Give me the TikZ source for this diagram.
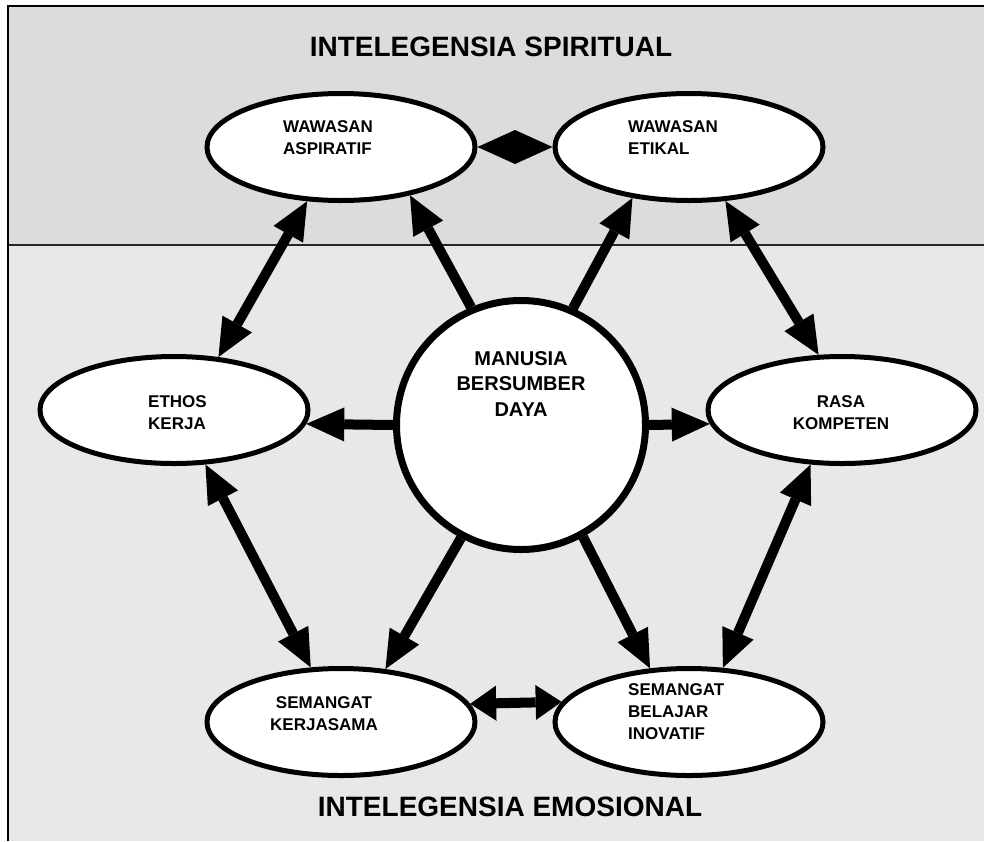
\documentclass[tikz,border=0pt]{standalone}
\usepackage{fontspec}
\setmainfont{Liberation Sans}
\usetikzlibrary{arrows.meta,shapes.geometric}
\definecolor{topgray}{RGB}{220,220,220}
\definecolor{botgray}{RGB}{232,232,232}
\begin{document}
\begin{tikzpicture}[x=1pt,y=-1pt,
  oval/.style={ellipse, draw=black, line width=5pt, fill=white, minimum width=268pt, minimum height=107pt, inner sep=0pt},
  hub/.style={circle, draw=black, line width=7pt, fill=white, minimum size=249pt, inner sep=0pt},
  lbl/.style={font=\fontsize{17}{22}\selectfont\bfseries, inner sep=0pt},
  hublbl/.style={font=\fontsize{20}{25.5}\selectfont\bfseries, inner sep=0pt},
  ttl/.style={font=\fontsize{28}{34}\selectfont\bfseries, inner sep=0pt},
  one/.style={line width=10pt, -{Triangle[length=38pt,width=34pt,line width=0pt]}},
  two/.style={line width=10pt, {Triangle[length=38pt,width=34pt,line width=0pt]}-{Triangle[length=38pt,width=34pt,line width=0pt]}},
  diam/.style={line width=10pt, {Triangle[length=37.5pt,width=34pt,line width=0pt]}-{Triangle[length=37.5pt,width=34pt,line width=0pt]}},
  shorttwo/.style={line width=10pt, {Triangle[length=26pt,width=35pt,line width=0pt]}-{Triangle[length=26pt,width=35pt,line width=0pt]}}
]
\useasboundingbox (0,0) rectangle (984,841);
% background panels
\fill[topgray] (8,6) rectangle (984,245);
\fill[botgray] (8,245) rectangle (984,841);
\draw[line width=2.5pt, black!85] (9,245) -- (984,245);
\draw[line width=2.5pt] (8,841) -- (8,6) -- (984,6);

% titles
\node[ttl] (t1) at (491,47) {INTELEGENSIA SPIRITUAL};
\node[ttl] (t2) at (510,807) {INTELEGENSIA EMOSIONAL};

% nodes
\node[hub] (C) at (521,425) {};
\node[oval] (A) at (341,147) {};
\node[oval] (E) at (689,147) {};
\node[oval] (K) at (174,410) {};
\node[oval] (R) at (842,410) {};
\node[oval] (S) at (341,722) {};
\node[oval] (B) at (689,722) {};

% labels
\node[hublbl, align=center] (Ct) at (521,384) {MANUSIA\\BERSUMBER\\DAYA};
\node[lbl, align=left, anchor=west] (At) at (283,138) {WAWASAN\\ASPIRATIF};
\node[lbl, align=left, anchor=west] (Et) at (628,138) {WAWASAN\\ETIKAL};
\node[lbl, align=left, anchor=west] (Kt) at (148,413) {ETHOS\\KERJA};
\node[lbl, align=center] (Rt) at (841,413) {RASA\\KOMPETEN};
\node[lbl, align=center] (St) at (324,714) {SEMANGAT\\KERJASAMA};
\node[lbl, align=left, anchor=west] (Bt) at (628,712) {SEMANGAT\\BELAJAR\\INOVATIF};

% arrows from the hub
\draw[one] (C.113.8) -- (A.-35);
\draw[one] (C.66.6) -- (E.-138.2);
\draw[one] (C.180) -- (K.-6.5);
\draw[one] (C.0) -- (R.186.5);
\draw[one] (C.-118) -- (S.50.3);
\draw[one] (C.-61.7) -- (B.126);

% arrows between ellipses
\draw[two] (A.-122.9) -- (K.50.3);
\draw[two] (E.-56.3) -- (R.113.5);
\draw[two] (K.-60.4) -- (S.119.6);
\draw[two] (R.-120.5) -- (B.58.7);
\draw[diam] (A.0) -- (E.180);
\draw[shorttwo] (S.8.4) -- (B.171.6);
\end{tikzpicture}
\end{document}
